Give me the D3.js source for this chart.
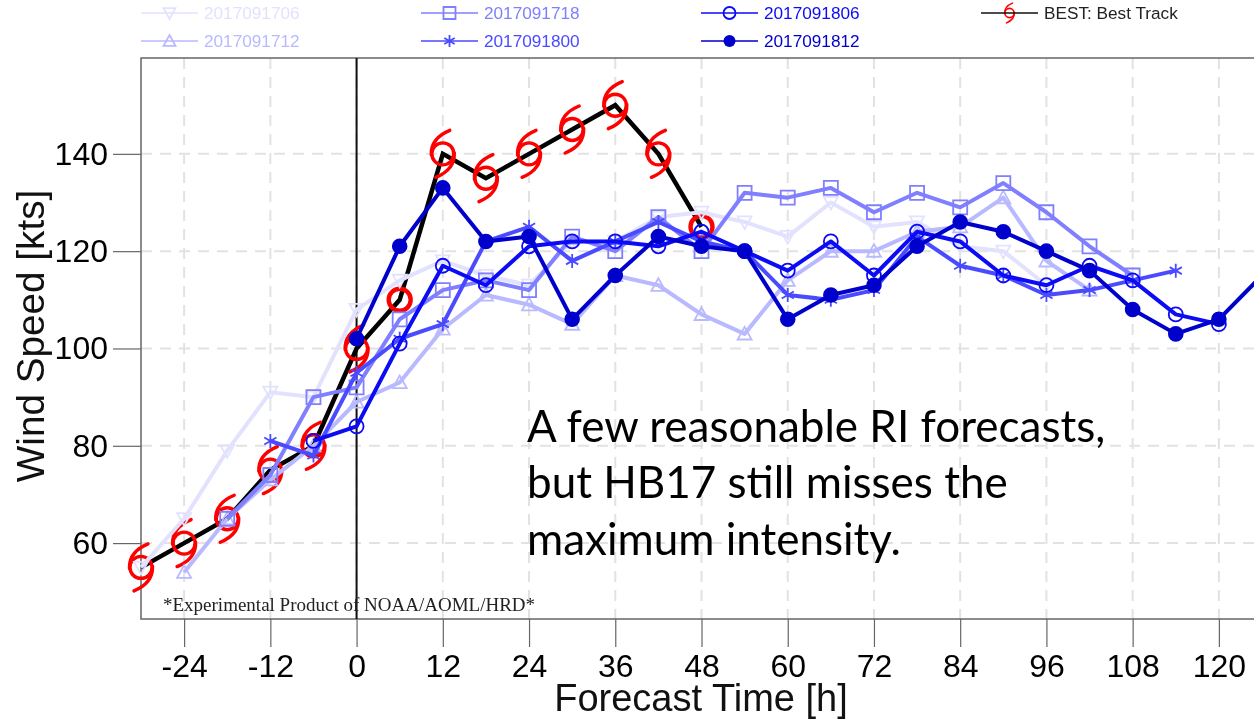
<!DOCTYPE html>
<html lang="en">
<head>
  <meta charset="utf-8">
  <title>Wind Speed Forecast</title>
  <script src="https://d3js.org/d3.v7.min.js"></script>
  <style>
    html, body { margin: 0; background: #fff; overflow: hidden; }
    svg { display: block; font-family: "Liberation Sans", sans-serif; }
    .soft { filter: blur(0.4px); }
  </style>
</head>
<body>
  <svg id="chart" width="1254" height="720"></svg>

  <script>
    // Values, one entry per forecast hour
    const hours = [-30, -24, -18, -12, -6, 0, 6, 12, 18, 24, 30, 36, 42, 48, 54, 60, 66, 72, 78, 84, 90, 96, 102, 108, 114, 120, 126];
    const bestTrack = [55, 60, 65, 75, 80, 100, 110, 140, 135, 140, 145, 150, 140, 125, null, null, null, null, null, null, null, null, null, null, null, null, null];
    const run1706 = [55, 65, 79, 91, 90, 108, 114, 118, 115, 113, 122, 122, 127, 128, 126, 123, 130, 125, 126, 121, 120, 113, null, null, null, null, null];
    const run1712 = [null, 54, 65, 73, 80, 89, 93, 104, 111, 109, 105, 115, 113, 107, 103, 114, 120, 120, 124, 125, 131, 118, 112, null, null, null, null];
    const run1718 = [null, null, 65, 74, 90, 92, 106, 112, 114, 112, 123, 120, 127, 120, 132, 131, 133, 128, 132, 129, 134, 128, 121, 115, null, null, null];
    const run1800 = [null, null, null, 81, 78, 95, 102, 105, 122, 125, 118, 122, 126, 122, 120, 111, 110, 112, 123, 117, 115, 111, 112, 114, 116, null, null];
    const run1806 = [null, null, null, null, 81, 84, 101, 117, 113, 121, 122, 122, 121, 124, 120, 116, 122, 115, 124, 122, 115, 113, 117, 114, 107, 105, null];
    const run1812 = [null, null, null, null, null, 102, 121, 133, 122, 123, 106, 115, 123, 121, 120, 106, 111, 113, 121, 126, 124, 120, 116, 108, 103, 106, 115];

    const runNames = ["2017091706", "2017091712", "2017091718", "2017091800", "2017091806", "2017091812"];
    const runValues = [run1706, run1712, run1718, run1800, run1806, run1812];
    const runColors = ["#e2e2ff", "#b9b9ff", "#7f7fff", "#4a4aff", "#0b0bf5", "#0000cc"];
    const runMarkers = ["triangleDown", "triangleUp", "square", "asterisk", "circle", "dot"];

    const xTicks = [-24, -12, 0, 12, 24, 36, 48, 60, 72, 84, 96, 108, 120];
    const yTicks = [60, 80, 100, 120, 140];
    const armlessHours = [6, 48]; // best track symbols that lost their arms in the original

    const note = ["A few reasonable RI forecasts,", "but HB17 still misses the", "maximum intensity."];

    const left = 141, top_ = 58, bottom = 619, right = 1262;

    const x = d3.scaleLinear().domain([-30, 126]).range([left, right]);
    const y = d3.scaleLinear().domain([44.4, 159.7]).range([bottom, top_]);

    const svg = d3.select("#chart");
    const plot = svg.append("g").attr("class", "soft");

    // grid
    plot.append("g").selectAll("line").data(xTicks).join("line")
        .attr("x1", d => x(d)).attr("x2", d => x(d))
        .attr("y1", top_).attr("y2", bottom)
        .attr("stroke", "#e2e2e2").attr("stroke-width", 2).attr("stroke-dasharray", "11 8");
    plot.append("g").selectAll("line").data(yTicks).join("line")
        .attr("x1", left).attr("x2", 1254)
        .attr("y1", d => y(d)).attr("y2", d => y(d))
        .attr("stroke", "#e2e2e2").attr("stroke-width", 2).attr("stroke-dasharray", "11 8");

    // axes
    const xAxis = plot.append("g")
        .attr("transform", `translate(0,${bottom})`)
        .call(d3.axisBottom(x).tickValues(xTicks).tickFormat(d => String(d)).tickSize(28).tickSizeOuter(0).tickPadding(7));
    const yAxis = plot.append("g")
        .attr("transform", `translate(${left},0)`)
        .call(d3.axisLeft(y).tickValues(yTicks).tickSize(28).tickSizeOuter(0).tickPadding(5));
    [xAxis, yAxis].forEach(a => {
      a.select(".domain").remove();
      a.selectAll("line").attr("stroke", "#666").attr("stroke-width", 1.2);
      a.selectAll("text").attr("font-size", 32).attr("font-family", "Liberation Sans").attr("fill", "#000");
    });

    plot.append("rect")
        .attr("x", left).attr("y", top_)
        .attr("width", right - left).attr("height", bottom - top_)
        .attr("fill", "none").attr("stroke", "#666").attr("stroke-width", 1.5);

    plot.append("line")
        .attr("x1", x(0)).attr("x2", x(0)).attr("y1", top_).attr("y2", bottom)
        .attr("stroke", "#111").attr("stroke-width", 2);

    plot.append("text")
        .attr("x", 163).attr("y", 611)
        .attr("font-family", "Liberation Serif").attr("font-size", 19).attr("fill", "#222")
        .text("*Experimental Product of NOAA/AOML/HRD*");

    function markerPath(kind, s) {
      const p = d3.path();
      if (kind === "square") {
        p.rect(-s, -s, 2 * s, 2 * s);
      } else if (kind === "circle" || kind === "dot") {
        p.arc(0, 0, s, 0, 2 * Math.PI);
      } else if (kind === "triangleUp" || kind === "triangleDown") {
        const f = kind === "triangleUp" ? 1 : -1;
        p.moveTo(0, -s * f);
        p.lineTo(s, s * 0.8 * f);
        p.lineTo(-s, s * 0.8 * f);
        p.closePath();
      } else {
        [0, 60, 120].forEach(a => {
          const r = a * Math.PI / 180;
          p.moveTo(-s * Math.sin(r), -s * Math.cos(r));
          p.lineTo(s * Math.sin(r), s * Math.cos(r));
        });
      }
      return p.toString();
    }

    function addMarker(g, kind, color, s) {
      g.append("path")
          .attr("d", markerPath(kind, s))
          .attr("fill", kind === "dot" ? color : "none")
          .attr("stroke", color)
          .attr("stroke-width", kind === "dot" ? 0 : 1.8);
    }

    function addStorm(g, scale, hasArms, width) {
      g.append("circle").attr("r", 11 * scale)
          .attr("fill", "none").attr("stroke", "#f00").attr("stroke-width", hasArms ? width : width + 1);
      if (!hasArms) return;
      g.append("path")
          .attr("d", `M${-11.5 * scale},${1 * scale} C${-12 * scale},${-11 * scale} ${-4 * scale},${-19 * scale} ${7 * scale},${-23.5 * scale}`)
          .attr("fill", "none").attr("stroke", "#f00").attr("stroke-width", width).attr("stroke-linecap", "round");
      g.append("path")
          .attr("d", `M${11.5 * scale},${-1 * scale} C${12 * scale},${11 * scale} ${4 * scale},${19 * scale} ${-7 * scale},${23.5 * scale}`)
          .attr("fill", "none").attr("stroke", "#f00").attr("stroke-width", width).attr("stroke-linecap", "round");
    }

    const line = d3.line()
        .defined(d => d.v !== null)
        .x(d => x(d.h))
        .y(d => y(d.v));
    const toPoints = values => values.map((v, i) => ({ h: hours[i], v: v }));

    // best track: storm symbols first, black line on top of them
    const bestPoints = toPoints(bestTrack).filter(d => d.v !== null);
    plot.append("path")
        .attr("d", line(bestPoints))
        .attr("fill", "none").attr("stroke", "#000").attr("stroke-width", 4.5);
    plot.append("g").selectAll("g").data(bestPoints).join("g")
        .attr("transform", d => `translate(${x(d.h)},${y(d.v)})`)
        .each(function(d) { addStorm(d3.select(this), 1, !armlessHours.includes(d.h), 3.4); });

    // forecast runs, lightest first
    runValues.forEach((values, i) => {
      const pts = toPoints(values);
      const g = plot.append("g");
      g.append("path")
          .attr("d", line(pts))
          .attr("fill", "none").attr("stroke", runColors[i])
          .attr("stroke-width", 4).attr("stroke-linejoin", "round");
      g.selectAll("g").data(pts.filter(d => d.v !== null)).join("g")
          .attr("transform", d => `translate(${x(d.h)},${y(d.v)})`)
          .each(function() {
            addMarker(d3.select(this), runMarkers[i], runColors[i], runMarkers[i] === "dot" ? 7.8 : 7);
          });
    });

    // legend
    const legendCols = [141, 421, 701];
    const legendRows = [13, 41];
    runNames.forEach((name, i) => {
      const g = plot.append("g")
          .attr("transform", `translate(${legendCols[Math.floor(i / 2)]},${legendRows[i % 2]})`);
      g.append("line").attr("x2", 57).attr("stroke", runColors[i]).attr("stroke-width", 1.6);
      const m = g.append("g").attr("transform", "translate(28.5,0)");
      addMarker(m, runMarkers[i], runColors[i], 6);
      g.append("text").attr("x", 63).attr("dy", "0.35em")
          .attr("font-size", 17.2).attr("fill", runColors[i]).text(name);
    });
    const bestLegend = plot.append("g").attr("transform", "translate(981,13)");
    const bestGlyph = bestLegend.append("g").attr("transform", "translate(28.5,0)");
    addStorm(bestGlyph, 0.42, true, 1.6);
    bestLegend.append("line").attr("x2", 57).attr("stroke", "#111").attr("stroke-width", 1.4);
    bestLegend.append("text").attr("x", 63).attr("dy", "0.35em")
        .attr("font-size", 17.2).attr("fill", "#222").text("BEST: Best Track");

    // axis titles
    plot.append("text")
        .attr("x", 701).attr("y", 711).attr("text-anchor", "middle")
        .attr("font-size", 38).attr("fill", "#111").text("Forecast Time [h]");
    plot.append("text")
        .attr("transform", "translate(44,336) rotate(-90)").attr("text-anchor", "middle")
        .attr("font-size", 38.7).attr("fill", "#111").text("Wind Speed [kts]");

    // annotation on top of the chart
    svg.append("g").selectAll("text").data(note).join("text")
        .attr("x", 527)
        .attr("y", (d, i) => 441.5 + i * 56.8)
        .attr("font-family", "Lato")
        .attr("font-size", 44)
        .attr("fill", "#000")
        .text(d => d);
  </script>
</body>
</html>
